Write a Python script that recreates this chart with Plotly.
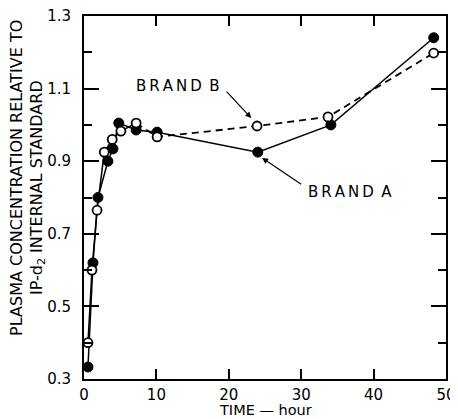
import plotly.graph_objects as go

# Time (hours) and plasma concentration ratios
time_a = [0.55, 1.24, 1.93, 3.3, 4.0, 4.8, 7.2, 10.1, 24.0, 34.1, 48.3]
conc_a = [0.333, 0.62, 0.80, 0.90, 0.934, 1.005, 0.986, 0.98, 0.925, 1.0, 1.24]

time_b = [0.55, 1.1, 1.8, 2.8, 3.9, 5.1, 7.2, 10.1, 23.9, 33.7, 48.3]
conc_b = [0.40, 0.60, 0.765, 0.925, 0.96, 0.983, 1.005, 0.967, 0.997, 1.022, 1.198]

x_ticks = [0, 10, 20, 30, 40, 50]
y_ticks = [0.3, 0.5, 0.7, 0.9, 1.1, 1.3]

y_title_1 = "PLASMA CONCENTRATION RELATIVE TO"
y_title_2 = "IP-d<sub>2</sub> INTERNAL STANDARD"
x_title = "TIME — hour"

FONT = "DejaVu Sans"
split = 6  # brand B switches to dashed after this point

fig = go.Figure()
fig.add_trace(go.Scatter(x=time_b[:split + 1], y=conc_b[:split + 1], mode="lines",
                         line=dict(color="black", width=1.5), showlegend=False))
fig.add_trace(go.Scatter(x=time_b[split:], y=conc_b[split:], mode="lines",
                         line=dict(color="black", width=1.8, dash="7px,5px"), showlegend=False))
fig.add_trace(go.Scatter(x=time_a, y=conc_a, mode="lines+markers",
                         line=dict(color="black", width=1.5),
                         marker=dict(size=10, color="black", line=dict(color="black", width=1)),
                         showlegend=False))
fig.add_trace(go.Scatter(x=time_b, y=conc_b, mode="markers",
                         marker=dict(size=9, color="white", line=dict(color="black", width=1.8)),
                         showlegend=False))

ann_font = dict(family=FONT, size=15, color="black")
fig.add_annotation(x=13.0, y=1.107, text="B\u2009R\u2009A\u2009N\u2009D\u2002B", showarrow=False,
                   font=ann_font, xref="x", yref="y")
fig.add_annotation(x=23.1, y=1.019, ax=19.5, ay=1.096, axref="x", ayref="y",
                   xref="x", yref="y", text="", showarrow=True,
                   arrowhead=2, arrowsize=1, arrowwidth=1.2, arrowcolor="black")
fig.add_annotation(x=36.7, y=0.815, text="B\u2009R\u2009A\u2009N\u2009D\u2002A", showarrow=False,
                   font=ann_font, xref="x", yref="y")
fig.add_annotation(x=24.6, y=0.909, ax=30.2, ay=0.834, axref="x", ayref="y",
                   xref="x", yref="y", text="", showarrow=True,
                   arrowhead=2, arrowsize=1, arrowwidth=1.2, arrowcolor="black")
# axis titles
fig.add_annotation(x=0.5, y=0, xref="paper", yref="paper", yshift=-31, yanchor="middle",
                   text=x_title, showarrow=False, font=dict(family=FONT, size=14.5, color="black"))
fig.add_annotation(x=0, y=0.554, xref="paper", yref="paper", xshift=-67, textangle=-90,
                   xanchor="center", yanchor="middle", text=y_title_1, showarrow=False,
                   font=dict(family=FONT, size=16, color="black"))
fig.add_annotation(x=0, y=0.526, xref="paper", yref="paper", xshift=-47, textangle=-90,
                   xanchor="center", yanchor="middle", text=y_title_2, showarrow=False,
                   font=dict(family=FONT, size=16, color="black"))

fig.update_xaxes(range=[0, 50], tickvals=x_ticks, ticks="inside", ticklen=10, tickwidth=2,
                 tickcolor="black", showline=True, linecolor="black", linewidth=2,
                 mirror="allticks", showgrid=False, zeroline=False, automargin=False,
                 ticklabeloverflow="allow", ticklabelstandoff=1,
                 tickfont=dict(family=FONT, size=15, color="black"))
fig.update_yaxes(range=[0.3, 1.3], tickvals=y_ticks, ticks="inside", ticklen=15, tickwidth=2,
                 tickcolor="black", showline=True, linecolor="black", linewidth=2,
                 mirror="allticks", showgrid=False, zeroline=False, automargin=False,
                 ticklabeloverflow="allow", ticklabelstandoff=8,
                 minor=dict(dtick=0.1, tick0=0.3, ticks="inside", ticklen=8, tickwidth=2,
                            tickcolor="black", showgrid=False),
                 tickfont=dict(family=FONT, size=15, color="black"))

fig.update_layout(width=450, height=411, margin=dict(l=76, r=12, t=8, b=40, autoexpand=False),
                  plot_bgcolor="white", paper_bgcolor="white")

fig.write_html("out.html")
